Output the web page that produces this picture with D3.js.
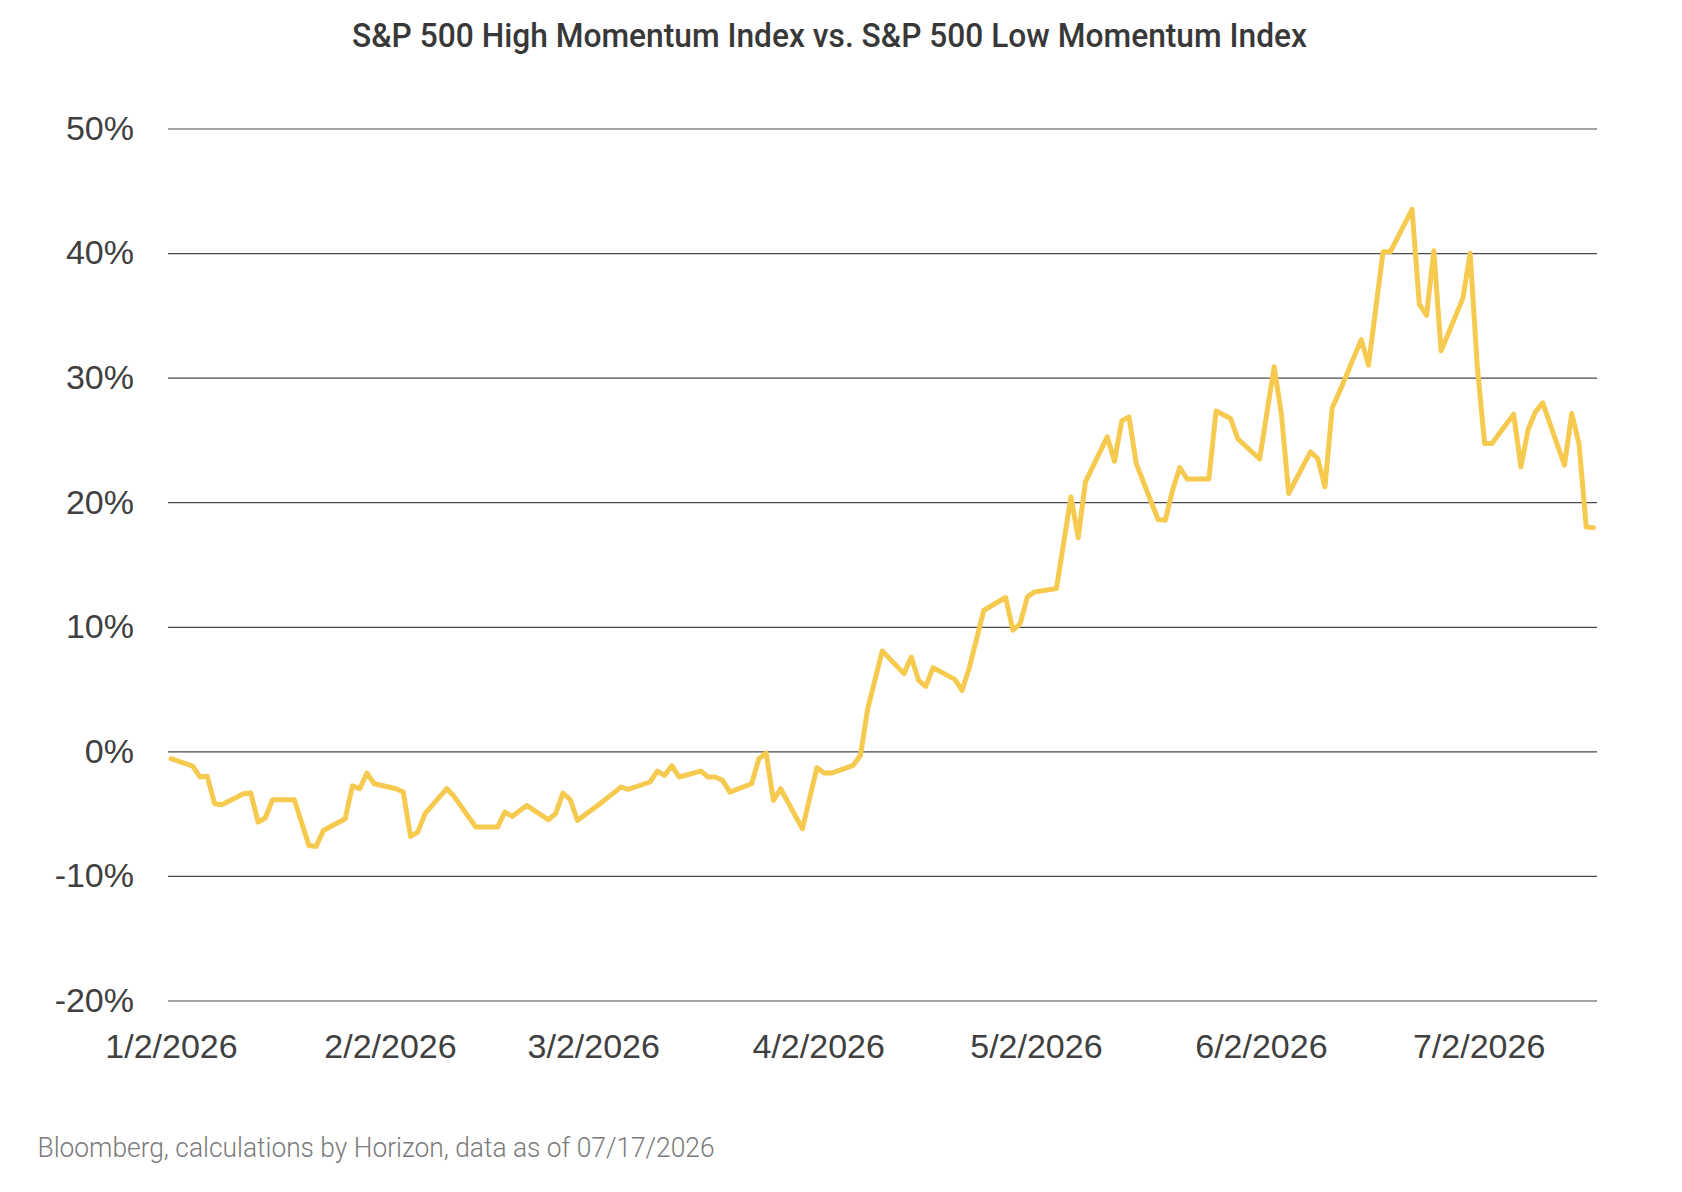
<!DOCTYPE html>
<html>
<head>
<meta charset="utf-8">
<script src="https://cdn.jsdelivr.net/npm/d3@7"></script>
<style>
  html, body { margin: 0; padding: 0; background: #ffffff; }
  svg { display: block; }
</style>
</head>
<body>
<svg id="chart" width="1682" height="1192"></svg>
<script>
// ---- Data ----
const title = "S&P 500 High Momentum Index vs. S&P 500 Low Momentum Index";
const source = "Bloomberg, calculations by Horizon, data as of 07/17/2026";

const dates = [
  "2026-01-02","2026-01-05","2026-01-06","2026-01-07","2026-01-08","2026-01-09",
  "2026-01-12","2026-01-13","2026-01-14","2026-01-15","2026-01-16","2026-01-19",
  "2026-01-21","2026-01-22","2026-01-23","2026-01-26","2026-01-27","2026-01-28",
  "2026-01-29","2026-01-30","2026-02-02","2026-02-03","2026-02-04","2026-02-05",
  "2026-02-06","2026-02-09","2026-02-10","2026-02-13","2026-02-16","2026-02-17",
  "2026-02-18","2026-02-20","2026-02-23","2026-02-24","2026-02-25","2026-02-26",
  "2026-02-27","2026-03-02","2026-03-05","2026-03-06","2026-03-09","2026-03-10",
  "2026-03-11","2026-03-12","2026-03-13","2026-03-16","2026-03-17","2026-03-18",
  "2026-03-19","2026-03-20","2026-03-23","2026-03-24","2026-03-25","2026-03-26",
  "2026-03-27","2026-03-30","2026-04-01","2026-04-02","2026-04-03","2026-04-06",
  "2026-04-07","2026-04-08","2026-04-10","2026-04-13","2026-04-14","2026-04-15",
  "2026-04-16","2026-04-17","2026-04-20","2026-04-21","2026-04-22","2026-04-24",
  "2026-04-27","2026-04-28","2026-04-29","2026-04-30","2026-05-01","2026-05-04",
  "2026-05-06","2026-05-07","2026-05-08","2026-05-11","2026-05-12","2026-05-13",
  "2026-05-14","2026-05-15","2026-05-18","2026-05-19","2026-05-20","2026-05-21",
  "2026-05-22","2026-05-25","2026-05-26","2026-05-28","2026-05-29","2026-06-01",
  "2026-06-03","2026-06-04","2026-06-05","2026-06-08","2026-06-09","2026-06-10",
  "2026-06-11","2026-06-12","2026-06-15","2026-06-16","2026-06-17","2026-06-18",
  "2026-06-19","2026-06-22","2026-06-23","2026-06-24","2026-06-25","2026-06-26",
  "2026-06-29","2026-06-30","2026-07-01","2026-07-02","2026-07-03","2026-07-06",
  "2026-07-07","2026-07-08","2026-07-09","2026-07-10","2026-07-13","2026-07-14",
  "2026-07-15","2026-07-16","2026-07-17"
];

const values = [
  -0.59,-1.18,-2.06,-2.0,-4.2,-4.28,
  -3.4,-3.35,-5.68,-5.33,-3.88,-3.88,
  -7.55,-7.63,-6.35,-5.41,-2.76,-3.0,
  -1.74,-2.6,-3.0,-3.27,-6.83,-6.48,
  -5.0,-3.0,-3.61,-6.08,-6.08,-4.87,
  -5.22,-4.34,-5.49,-5.0,-3.35,-3.88,
  -5.54,-4.25,-2.87,-3.05,-2.46,-1.58,
  -1.93,-1.15,-2.06,-1.58,-2.06,-2.06,
  -2.33,-3.27,-2.6,-0.59,-0.13,-3.94,
  -3.0,-6.21,-1.31,-1.74,-1.74,-1.12,
  -0.32,3.43,8.06,6.24,7.57,5.7,
  5.22,6.72,5.78,4.9,6.72,11.33,
  12.35,9.72,10.26,12.4,12.8,13.07,
  20.43,17.16,21.63,25.25,23.29,26.53,
  26.85,23.1,18.61,18.55,20.96,22.79,
  21.86,21.86,27.32,26.72,25.08,23.47,
  30.87,27.05,20.7,24.04,23.51,21.23,
  27.58,28.86,33.05,31.0,35.56,40.1,
  40.1,43.51,35.9,35.0,40.18,32.15,
  36.36,39.98,30.8,24.71,24.71,27.07,
  22.84,25.84,27.25,27.98,22.97,27.12,
  24.71,18.0,17.96
];

const yTicks = [-20, -10, 0, 10, 20, 30, 40, 50];
const xTickDates = ["2026-01-02","2026-02-02","2026-03-02","2026-04-02","2026-05-02","2026-06-02","2026-07-02"];
const xDomain = ["2026-01-02", "2026-07-17"];

// ---- Layout ----
const parse = d3.utcParse("%Y-%m-%d");
const data = dates.map((d, i) => ({ date: parse(d), value: values[i] }));

const svg = d3.select("#chart");
const gridLeft = 168, gridRight = 1597;

const x = d3.scaleUtc()
  .domain(xDomain.map(parse))
  .range([171, 1593.5]);

const y = d3.scaleLinear()
  .domain([-20, 50])
  .range([1000.5, 128.5]);

// Title
svg.append("text")
  .attr("x", 352)
  .attr("y", 47)
  .attr("textLength", 955)
  .attr("lengthAdjust", "spacingAndGlyphs")
  .style("font-family", "Roboto, 'Liberation Sans', sans-serif")
  .style("font-weight", 500)
  .style("font-size", "33px")
  .style("fill", "#383838")
  .text(title);

// Y axis with gridlines
const yAxis = d3.axisLeft(y)
  .tickValues(yTicks)
  .tickSize(-(gridRight - gridLeft))
  .tickPadding(34)
  .tickFormat(d => d + "%");

const gy = svg.append("g")
  .attr("transform", `translate(${gridLeft},0)`)
  .call(yAxis);
gy.select(".domain").remove();
gy.selectAll(".tick line")
  .attr("stroke", "#4a4a4a")
  .attr("stroke-width", 1.2);
gy.selectAll(".tick text")
  .style("font-family", "'Liberation Sans', Arial, sans-serif")
  .style("font-size", "34px")
  .style("fill", "#404040");

// X axis
const xAxis = d3.axisBottom(x)
  .tickValues(xTickDates.map(parse))
  .tickSize(0)
  .tickPadding(33)
  .tickFormat(d3.utcFormat("%-m/%-d/%Y"));

const gx = svg.append("g")
  .attr("transform", `translate(0,${y(-20)})`)
  .call(xAxis);
gx.select(".domain").remove();
gx.selectAll(".tick text")
  .attr("dx", (d, i) => i === 0 ? 0 : -6)
  .style("font-family", "'Liberation Sans', Arial, sans-serif")
  .style("font-size", "34px")
  .style("fill", "#404040");

// Line
const line = d3.line()
  .x(d => x(d.date))
  .y(d => y(d.value))
  .curve(d3.curveLinear);

svg.append("path")
  .datum(data)
  .attr("d", line)
  .attr("fill", "none")
  .attr("stroke", "#F6C94F")
  .attr("stroke-width", 5)
  .attr("stroke-linejoin", "round")
  .attr("stroke-linecap", "round");

// Source note
svg.append("text")
  .attr("x", 37.5)
  .attr("y", 1156.5)
  .attr("textLength", 677)
  .attr("lengthAdjust", "spacingAndGlyphs")
  .style("font-family", "Roboto, 'Liberation Sans', sans-serif")
  .style("font-weight", 300)
  .style("font-size", "28px")
  .style("fill", "#7a7a7a")
  .text(source);
</script>
</body>
</html>
